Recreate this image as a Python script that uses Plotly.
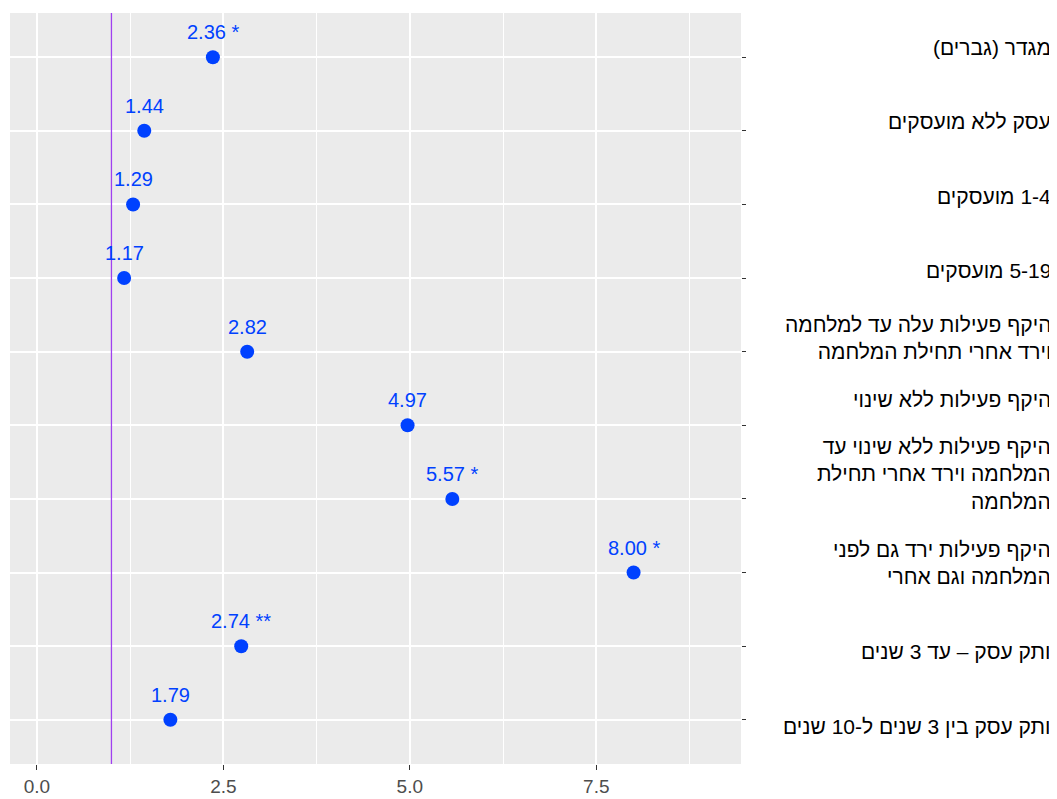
import plotly.graph_objects as go

# ---------------- data ----------------
categories = [
    "מגדר (גברים)",
    "עסק ללא מועסקים",
    "1-4 מועסקים",
    "5-19 מועסקים",
    "היקף פעילות עלה עד למלחמה\nוירד אחרי תחילת המלחמה",
    "היקף פעילות ללא שינוי",
    "היקף פעילות ללא שינוי עד\nהמלחמה וירד אחרי תחילת\nהמלחמה",
    "היקף פעילות ירד גם לפני\nהמלחמה וגם אחרי",
    "ותק עסק – עד 3 שנים",
    "ותק עסק בין 3 שנים ל-10 שנים",
]
odds_ratios = [2.36, 1.44, 1.29, 1.17, 2.82, 4.97, 5.57, 8.00, 2.74, 1.79]
significance = ["*", "", "", "", "", "", "*", "*", "**", ""]
x_tick_values = [0, 2.5, 5, 7.5]
x_tick_labels = ["0.0", "2.5", "5.0", "7.5"]
reference_value = 1

# ---------------- styling ----------------
POINT_COLOR = "#0041FF"
REF_COLOR = "#A040F0"
PANEL_BG = "#EBEBEB"
FONT = "Liberation Sans, Arial, sans-serif"
label_yshift = [10, 9, 8, 8, 14, 26, 25, 10, -5, -7]

point_labels = [f"{v:.2f} {s}".strip() for v, s in zip(odds_ratios, significance)]


def rtl(text):
    return "<br>".join("\u202b" + line + "\u202c" for line in text.split("\n"))


fig = go.Figure()

fig.add_vline(x=reference_value, line_color=REF_COLOR, line_width=1.3, layer="above")

fig.add_trace(go.Scatter(
    x=odds_ratios,
    y=categories,
    mode="markers",
    marker=dict(color=POINT_COLOR, size=14),
    cliponaxis=False,
    showlegend=False,
    hoverinfo="x+y",
))

# value labels above each point
for xv, cat, lab in zip(odds_ratios, categories, point_labels):
    fig.add_annotation(
        x=xv, y=cat, xref="x", yref="y", yshift=25,
        text=lab, showarrow=False, xanchor="center", yanchor="middle",
        font=dict(family=FONT, size=20, color=POINT_COLOR),
    )

# category labels at the right
for cat, shift in zip(categories, label_yshift):
    fig.add_annotation(
        x=1.4268, xref="paper", xanchor="right",
        y=cat, yref="y", yshift=shift,
        text=rtl(cat), align="right", showarrow=False,
        font=dict(family=FONT, size=21, color="black"),
    )

n = len(categories)
# the page body adds an 8px offset; figure is sized so the panel lands where the reference has it
fig.update_layout(
    width=1049, height=791,
    margin=dict(l=2, r=316, t=5, b=33),
    paper_bgcolor="white",
    plot_bgcolor=PANEL_BG,
    xaxis=dict(
        range=[-0.36, 9.44],
        tickvals=x_tick_values,
        ticktext=x_tick_labels,
        showgrid=True, gridcolor="white", gridwidth=1.5,
        zeroline=False,
        ticks="outside", ticklen=5, tickcolor="#333333", tickwidth=1,
        tickfont=dict(family=FONT, size=19, color="#4D4D4D"),
        minor=dict(dtick=1.25, tick0=0, showgrid=True, gridcolor="white", gridwidth=0.7),
        showline=False,
        fixedrange=True,
    ),
    yaxis=dict(
        type="category",
        categoryorder="array",
        categoryarray=categories,
        range=[n - 1 + 0.6, -0.6],
        side="right",
        showgrid=True, gridcolor="white", gridwidth=1.5,
        zeroline=False,
        ticks="outside", ticklen=4, tickcolor="#333333", tickwidth=1,
        showticklabels=False,
        showline=False,
        fixedrange=True,
    ),
)

fig.write_html("out.html")
